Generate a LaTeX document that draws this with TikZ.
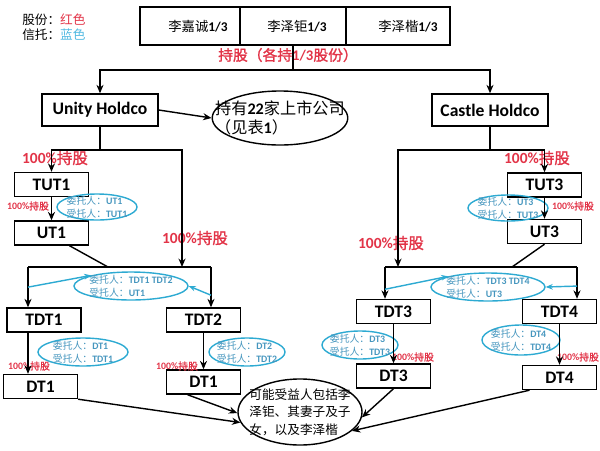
\documentclass[tikz,border=0pt]{standalone}
\usepackage{fontspec}
\setmainfont{Noto Sans CJK SC}[AutoFakeBold=1.5]
\newfontfamily\lat{Carlito}
\definecolor{hred}{RGB}{226,52,72}
\definecolor{tblue}{RGB}{45,170,210}
\definecolor{ttext}{RGB}{70,150,190}
\definecolor{lblue}{RGB}{80,185,225}
\usetikzlibrary{arrows.meta,positioning,shapes.geometric,calc}
\newcommand{\en}[1]{{\lat\bfseries #1}}

\begin{document}
\begin{tikzpicture}[
  x=0.025cm, y=-0.025cm,
  line/.style={line width=1pt},
  arr/.style={-{Stealth[length=6pt,width=5pt]},line width=1pt},
  tarr/.style={-{Stealth[length=5pt,width=4pt]},line width=1pt,tblue},
  cellbox/.style={draw,line width=1pt,minimum height=0.95cm,inner sep=0pt,font=\fontsize{9.5}{11}\selectfont},
  entbox/.style={draw,line width=1pt,minimum width=1.85cm,minimum height=0.6cm,inner sep=0pt,font=\lat\bfseries\fontsize{12.5}{14}\selectfont},
  trust/.style={ellipse,draw=tblue,line width=1pt,text=ttext,inner sep=-8pt,align=left,font=\fontsize{7}{9}\selectfont},
  bigpct/.style={text=hred,inner sep=0pt,font=\fontsize{11}{12}\selectfont\bfseries},
  smallpct/.style={text=hred,inner sep=0pt,font=\fontsize{7}{8}\selectfont\bfseries},
]
  \useasboundingbox (0,0) rectangle (600,450);

  % Legend
  \node[anchor=west,align=left,inner sep=0pt,font=\fontsize{9}{10.6}\selectfont] (legend) at (22,27)
    {股份：{\color{hred}红色}\\信托：{\color{lblue}蓝色}};

  % Shareholders
  \node[cellbox,minimum width=2.5cm] (c1) at (190,26) {\hspace{0.4cm}李嘉诚\en{1/3}};
  \node[cellbox,minimum width=2.65cm] (c2) at (293,26) {\hspace{0.2cm}李泽钜\en{1/3}};
  \node[cellbox,minimum width=2.6cm] (c3) at (398,26) {\hspace{0.5cm}李泽楷\en{1/3}};
  \node[text=hred,inner sep=0pt,font=\fontsize{10.5}{12}\selectfont\bfseries] (share) at (288,55)
    {持股（各持\en{1/3}股份）};

  % Holdcos
  \node[entbox,minimum width=2.9cm,minimum height=0.8cm] (unity) at (100,110) {Unity Holdco};
  \node[entbox,minimum width=2.9cm,minimum height=0.8cm] (castle) at (490,110) {Castle Holdco};
  \node[ellipse,draw,line width=1pt,minimum width=3.35cm,minimum height=1.35cm,inner sep=-12pt,
        align=left,font=\fontsize{11.5}{14}\selectfont] (listed) at (280,118)
    {持有\en{22}家上市公司\\（见表\en{1}）};

  % Unity side
  \node[entbox] (tut1) at (51.5,184.5) {TUT1};
  \node[entbox] (ut1) at (51.5,233) {UT1};
  \node[entbox] (tdt1) at (44,320) {TDT1};
  \node[entbox] (tdt2) at (203.5,320) {TDT2};
  \node[entbox] (dt1a) at (40.5,386.5) {DT1};
  \node[entbox] (dt1b) at (203.5,382) {DT1};

  % Castle side
  \node[entbox] (tut3) at (544.5,185) {TUT3};
  \node[entbox] (ut3) at (544.5,231.5) {UT3};
  \node[entbox] (tdt3) at (393.5,311.5) {TDT3};
  \node[entbox] (tdt4) at (559.5,311.5) {TDT4};
  \node[entbox] (dt3) at (393.5,376) {DT3};
  \node[entbox] (dt4) at (559.5,377.5) {DT4};

  % Beneficiaries
  \node[ellipse,draw,line width=1pt,minimum width=3.1cm,minimum height=1.65cm,inner sep=-12pt,
        align=left,font=\fontsize{9}{12.4}\selectfont] (benef) at (300,412)
    {可能受益人包括李\\泽钜、其妻子及子\\女，以及李泽楷};

  % Trusts
  \node[trust,minimum width=2cm,minimum height=0.65cm] (e1) at (97,207) {委托人：\en{UT1}\\受托人：\en{TUT1}};
  \node[trust,minimum width=2.85cm,minimum height=0.7cm] (e2) at (131,286) {委托人：\en{TDT1 TDT2}\\受托人：\en{UT1}};
  \node[trust,minimum width=2.25cm,minimum height=0.7cm] (e3) at (83,352) {委托人：\en{DT1}\\受托人：\en{TDT1}};
  \node[trust,minimum width=1.9cm,minimum height=0.7cm] (e4) at (247,352) {委托人：\en{DT2}\\受托人：\en{TDT2}};
  \node[trust,minimum width=2cm,minimum height=0.65cm] (e5) at (508,208) {委托人：\en{UT3}\\受托人：\en{TUT3}};
  \node[trust,minimum width=2.85cm,minimum height=0.7cm] (e6) at (488,287) {委托人：\en{TDT3 TDT4}\\受托人：\en{UT3}};
  \node[trust,minimum width=1.9cm,minimum height=0.7cm] (e7) at (360,345) {委托人：\en{DT3}\\受托人：\en{TDT3}};
  \node[trust,minimum width=1.95cm,minimum height=0.75cm] (e8) at (521,340) {委托人：\en{DT4}\\受托人：\en{TDT4}};

  % Ownership labels
  \node[bigpct] (r1) at (55,158) {\en{100\%}持股};
  \node[bigpct] (r2) at (195,238) {\en{100\%}持股};
  \node[bigpct] (r3) at (537,158) {\en{100\%}持股};
  \node[bigpct] (r4) at (391,243) {\en{100\%}持股};
  \node[smallpct] (s1) at (28,206) {\en{100\%}持股};
  \node[smallpct] (s2) at (29,366) {\en{100\%}持股};
  \node[smallpct] (s3) at (177,366) {\en{100\%}持股};
  \node[smallpct] (s4) at (573,206) {\en{100\%}持股};
  \node[smallpct] (s5) at (413,357) {\en{100\%}持股};
  \node[smallpct] (s6) at (578,357) {\en{100\%}持股};

  % Junctions
  \coordinate (topjoin) at (293,70);
  \coordinate (ujoin) at (100,150);
  \coordinate (cjoin) at (490,150);
  \coordinate (lbl) at (28,267);
  \coordinate (lbr) at (211,267);
  \coordinate (lbin) at (182,267);
  \coordinate (lbmid) at (108,267);
  \coordinate (rbl) at (385,267);
  \coordinate (rbr) at (577,267);
  \coordinate (rbin) at (398,267);
  \coordinate (rbmid) at (512,267);

  % Top connectors
  \draw[line] (c2.south) -- (topjoin);
  \draw[arr] (topjoin) -| (unity.north);
  \draw[arr] (topjoin) -| (castle.north);
  \draw[arr] (unity.east) -- (listed.west);

  % Unity connectors
  \draw[line] (unity.south) -- (ujoin);
  \draw[arr] (ujoin) -| (tut1.north);
  \draw[arr] (ujoin) -| (lbin);
  \draw[arr] (tut1) -- (ut1);
  \draw[line] ([xshift=0.45cm]ut1.south) -- (lbmid);
  \draw[line] (lbl) -- (lbr);
  \draw[arr] (lbl) -- (lbl |- tdt1.north);
  \draw[arr] (lbr) -- (lbr |- tdt2.north);
  \draw[tarr] ($(lbl)!0.5!(lbl |- tdt1.north)$) -- (e2.165);
  \draw[tarr] ($(lbr)!0.7!(lbr |- tdt2.north)$) -- (e2.east);
  \draw[arr] (lbl |- tdt1.south) -- (lbl |- dt1a.north);
  \draw[arr] (tdt2.south) -- (dt1b.north);

  % Castle connectors
  \draw[line] (castle.south) -- (cjoin);
  \draw[arr] (cjoin) -| (tut3.north);
  \draw[arr] (cjoin) -| (rbin);
  \draw[arr] (tut3) -- (ut3);
  \draw[line] (ut3.south) -- (rbmid);
  \draw[line] (rbl) -- (rbr);
  \draw[arr] (rbl) -- (rbl |- tdt3.north);
  \draw[arr] (rbr) -- (rbr |- tdt4.north);
  \draw[tarr] ($(rbl)!0.7!(rbl |- tdt3.north)$) -- (e6.165);
  \draw[tarr] ($(rbr)!0.6!(rbr |- tdt4.north)$) -- (e6.east);
  \draw[arr] (tdt3.south) -- (dt3.north);
  \draw[arr] (tdt4.south) -- (dt4.north);

  % To beneficiaries
  \draw[arr] (dt1a.south east) -- (benef.190);
  \draw[arr] ([xshift=-0.4cm]dt1b.south) -- (benef.181);
  \draw[arr] (dt3.south) -- (benef.-5);
  \draw[arr] ([xshift=-0.75cm]dt4.south) -- (benef.-20);
\end{tikzpicture}
\end{document}
